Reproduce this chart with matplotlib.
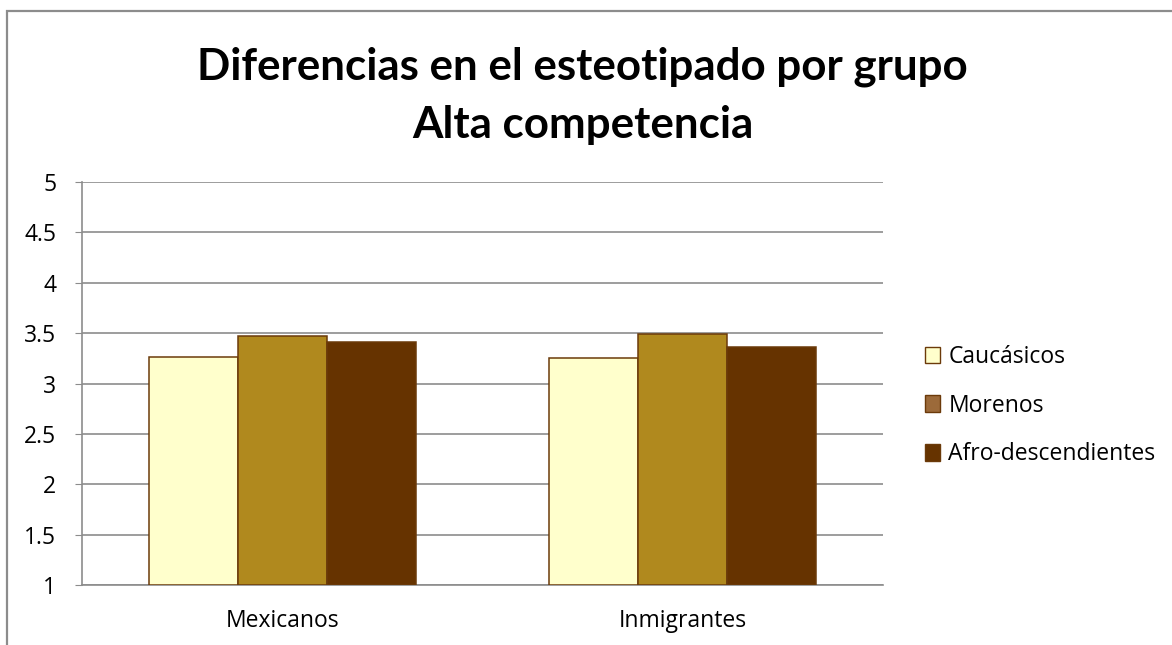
import matplotlib
matplotlib.use("Agg")
import matplotlib.pyplot as plt
from matplotlib.patches import Patch, Rectangle
import numpy as np

plt.rcParams['font.family'] = ['Open Sans', 'DejaVu Sans']

groups = ["Mexicanos", "Inmigrantes"]
series = ["Caucásicos", "Morenos", "Afro-descendientes"]
caucasicos = [3.26, 3.25]
morenos = [3.47, 3.49]
afro = [3.41, 3.36]

bar_colors = ["#FFFFCC", "#B0891E", "#663300"]
legend_colors = ["#FFFFCC", "#9C6A3A", "#663300"]
edge = "#6B3A0A"

fig = plt.figure(figsize=(11.72, 6.45), dpi=100)
ax = fig.add_axes([0.070, 0.093, 0.6834, 0.6248])

# outer chart frame
fig.patches.append(Rectangle((7 / 1172, -0.05), 1.2, 1 - 11 / 645 + 0.05,
                             transform=fig.transFigure, fill=False,
                             edgecolor="#8C8C8C", linewidth=1.6))

x = np.arange(len(groups))
w = 0.222
for i, vals in enumerate([caucasicos, morenos, afro]):
    ax.bar(x + (i - 1) * w, np.array(vals) - 1, width=w, bottom=1,
           color=bar_colors[i], edgecolor=edge, linewidth=1.1, zorder=3)

ax.set_xlim(-0.5, 1.5)
ax.set_ylim(1, 5)
ax.set_yticks(np.arange(1, 5.01, 0.5))
ax.set_yticklabels(["1", "1.5", "2", "2.5", "3", "3.5", "4", "4.5", "5"])
ax.set_xticks(x)
ax.set_xticklabels(groups)
ax.yaxis.grid(True, color="#8C8C8C", linewidth=1.2, zorder=0)
ax.tick_params(axis='y', length=5, color="#8C8C8C", labelsize=16.5, pad=13.5)
ax.tick_params(axis='x', length=0, labelsize=16.5, pad=17)
for s in ["top", "right"]:
    ax.spines[s].set_visible(False)
for s in ["left", "bottom"]:
    ax.spines[s].set_color("#8C8C8C")
    ax.spines[s].set_linewidth(1.2)

handles = [Patch(facecolor=c, edgecolor=edge, linewidth=1) for c in legend_colors]
fig.legend(handles, series, loc="center left", bbox_to_anchor=(0.772, 0.371),
           frameon=False, fontsize=16.5, handlelength=0.65, handleheight=0.75,
           handletextpad=0.35, labelspacing=1.08)

fig.text(0.497, 0.852, "Diferencias en el esteotipado por grupo\nAlta competencia",
         ha="center", va="center", fontsize=31.6, fontweight="bold",
         family=['Lato', 'DejaVu Sans'], linespacing=1.55)

fig.savefig("out.png", dpi=100)
